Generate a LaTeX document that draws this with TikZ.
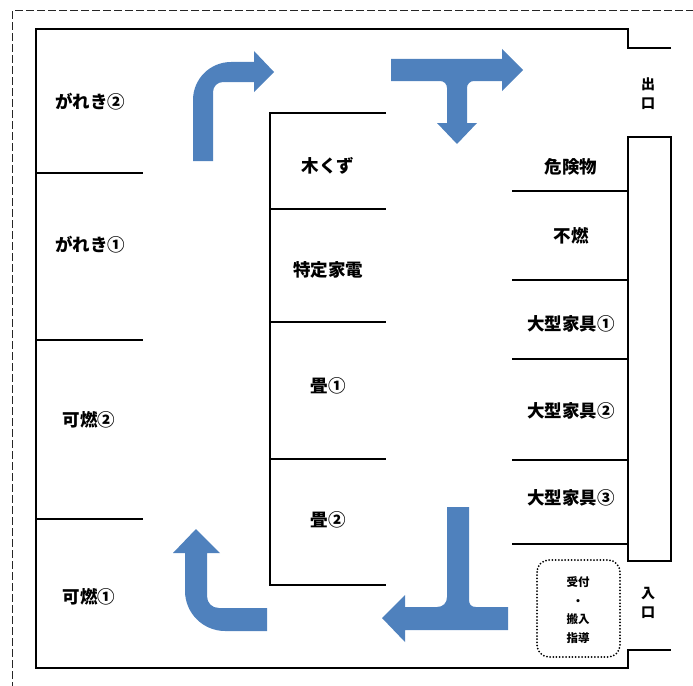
\documentclass[tikz,border=0pt]{standalone}
\usepackage{fontspec}
\newfontfamily\jpfont{Noto Sans CJK JP}
\usepackage{tikz}
\definecolor{flowblue}{RGB}{79,129,189}
\tikzset{
  wall/.style={line width=1.2pt,black},
  wallthick/.style={line width=2pt,black},
  area/.style={font=\jpfont\bfseries\fontsize{17.5}{20}\selectfont,inner sep=0pt},
  gate/.style={font=\jpfont\bfseries\fontsize{14}{19}\selectfont,align=center,inner sep=0pt},
  flow/.style={fill=flowblue,draw=none}
}
\begin{document}
\begin{tikzpicture}[x=1pt,y=-1pt]
\useasboundingbox (0,0) rectangle (693,685);
% site border
\draw[line width=1pt,black!85,dash pattern=on 8pt off 3pt] (12,690) -- (12,11) -- (698,11);
% building
\draw[wall] (671,48) -- (628,48) -- (628,29) -- (36,29) -- (36,668) -- (628,668) -- (628,650) -- (671,650);
\draw[wall] (628,137) rectangle (671,561);
\node[gate] (exit) at (648,94) {出\\口};
\node[gate] (entry) at (648,603) {入\\口};

% left bays
\draw[wall] (36,173) -- (143,173);
\draw[wall] (36,340) -- (143,340);
\draw[wall] (36,519) -- (143,519);
\node[area] (gareki2) at (90,102) {がれき②};
\node[area] (gareki1) at (90,245) {がれき①};
\node[area] (kanen2) at (89,420) {可燃②};
\node[area] (kanen1) at (89,597) {可燃①};

% middle island
\draw[wall] (386,113) -- (270,113) -- (270,585) -- (386,585);
\draw[wall] (270,209) -- (386,209);
\draw[wall] (270,322) -- (386,322);
\draw[wallthick] (270,459) -- (386,459);
\node[area] (mokuzu) at (328,166) {木くず};
\node[area] (kaden) at (328,270) {特定家電};
\node[area] (tatami1) at (328,386) {畳①};
\node[area] (tatami2) at (328,520) {畳②};

% right bays
\draw[wall] (512,191) -- (628,191);
\draw[wall] (512,280) -- (628,280);
\draw[wall] (512,359) -- (628,359);
\draw[wallthick] (512,460) -- (628,460);
\draw[wall] (512,544) -- (628,544);
\node[area] (kiken) at (571,167) {危険物};
\node[area] (funen) at (571,236) {不燃};
\node[area] (kagu1) at (571,324) {大型家具①};
\node[area] (kagu2) at (571,411) {大型家具②};
\node[area] (kagu3) at (571,498) {大型家具③};

% reception
\draw[line width=2pt,line cap=round,dash pattern=on 0pt off 3.2pt,rounded corners=12pt] (537,560) rectangle (620,657);
\node[font=\jpfont\bfseries\fontsize{11.5}{18.5}\selectfont,align=center] (uketsuke) at (578,610) {受付\\・\\搬入\\指導};

% traffic flow
\fill[flow] (193,161) -- (193,100) .. controls (193,79) and (210,62) .. (231,62) -- (254,62) -- (254,51) -- (274,72) -- (254,92) -- (254,82) -- (223,82) .. controls (217.5,82) and (213,86.5) .. (213,92) -- (213,161) -- cycle;
\fill[flow] (391,59) -- (502,59) -- (502,49) -- (523,70) -- (502,91) -- (502,81) -- (474,81) .. controls (470,81) and (467,84) .. (467,88) -- (467,123) -- (477,123) -- (457,144) -- (437,123) -- (447,123) -- (447,88) .. controls (447,84) and (444,81) .. (440,81) -- (391,81) -- cycle;
\fill[flow] (447,507) -- (469,507) -- (469,600) .. controls (469,604) and (471,607) .. (476,607) -- (508,607) -- (508,630) -- (405,630) -- (405,642) -- (382,618) -- (405,595) -- (405,607) -- (437,607) .. controls (443,607) and (447,603) .. (447,597) -- cycle;
\fill[flow] (267,608) -- (267,631) -- (225,631) .. controls (203,631) and (185,613) .. (185,591) -- (185,553) -- (173,553) -- (196,529) -- (220,553) -- (207,553) -- (207,596) .. controls (207,603) and (212,608) .. (219,608) -- cycle;
\end{tikzpicture}
\end{document}
